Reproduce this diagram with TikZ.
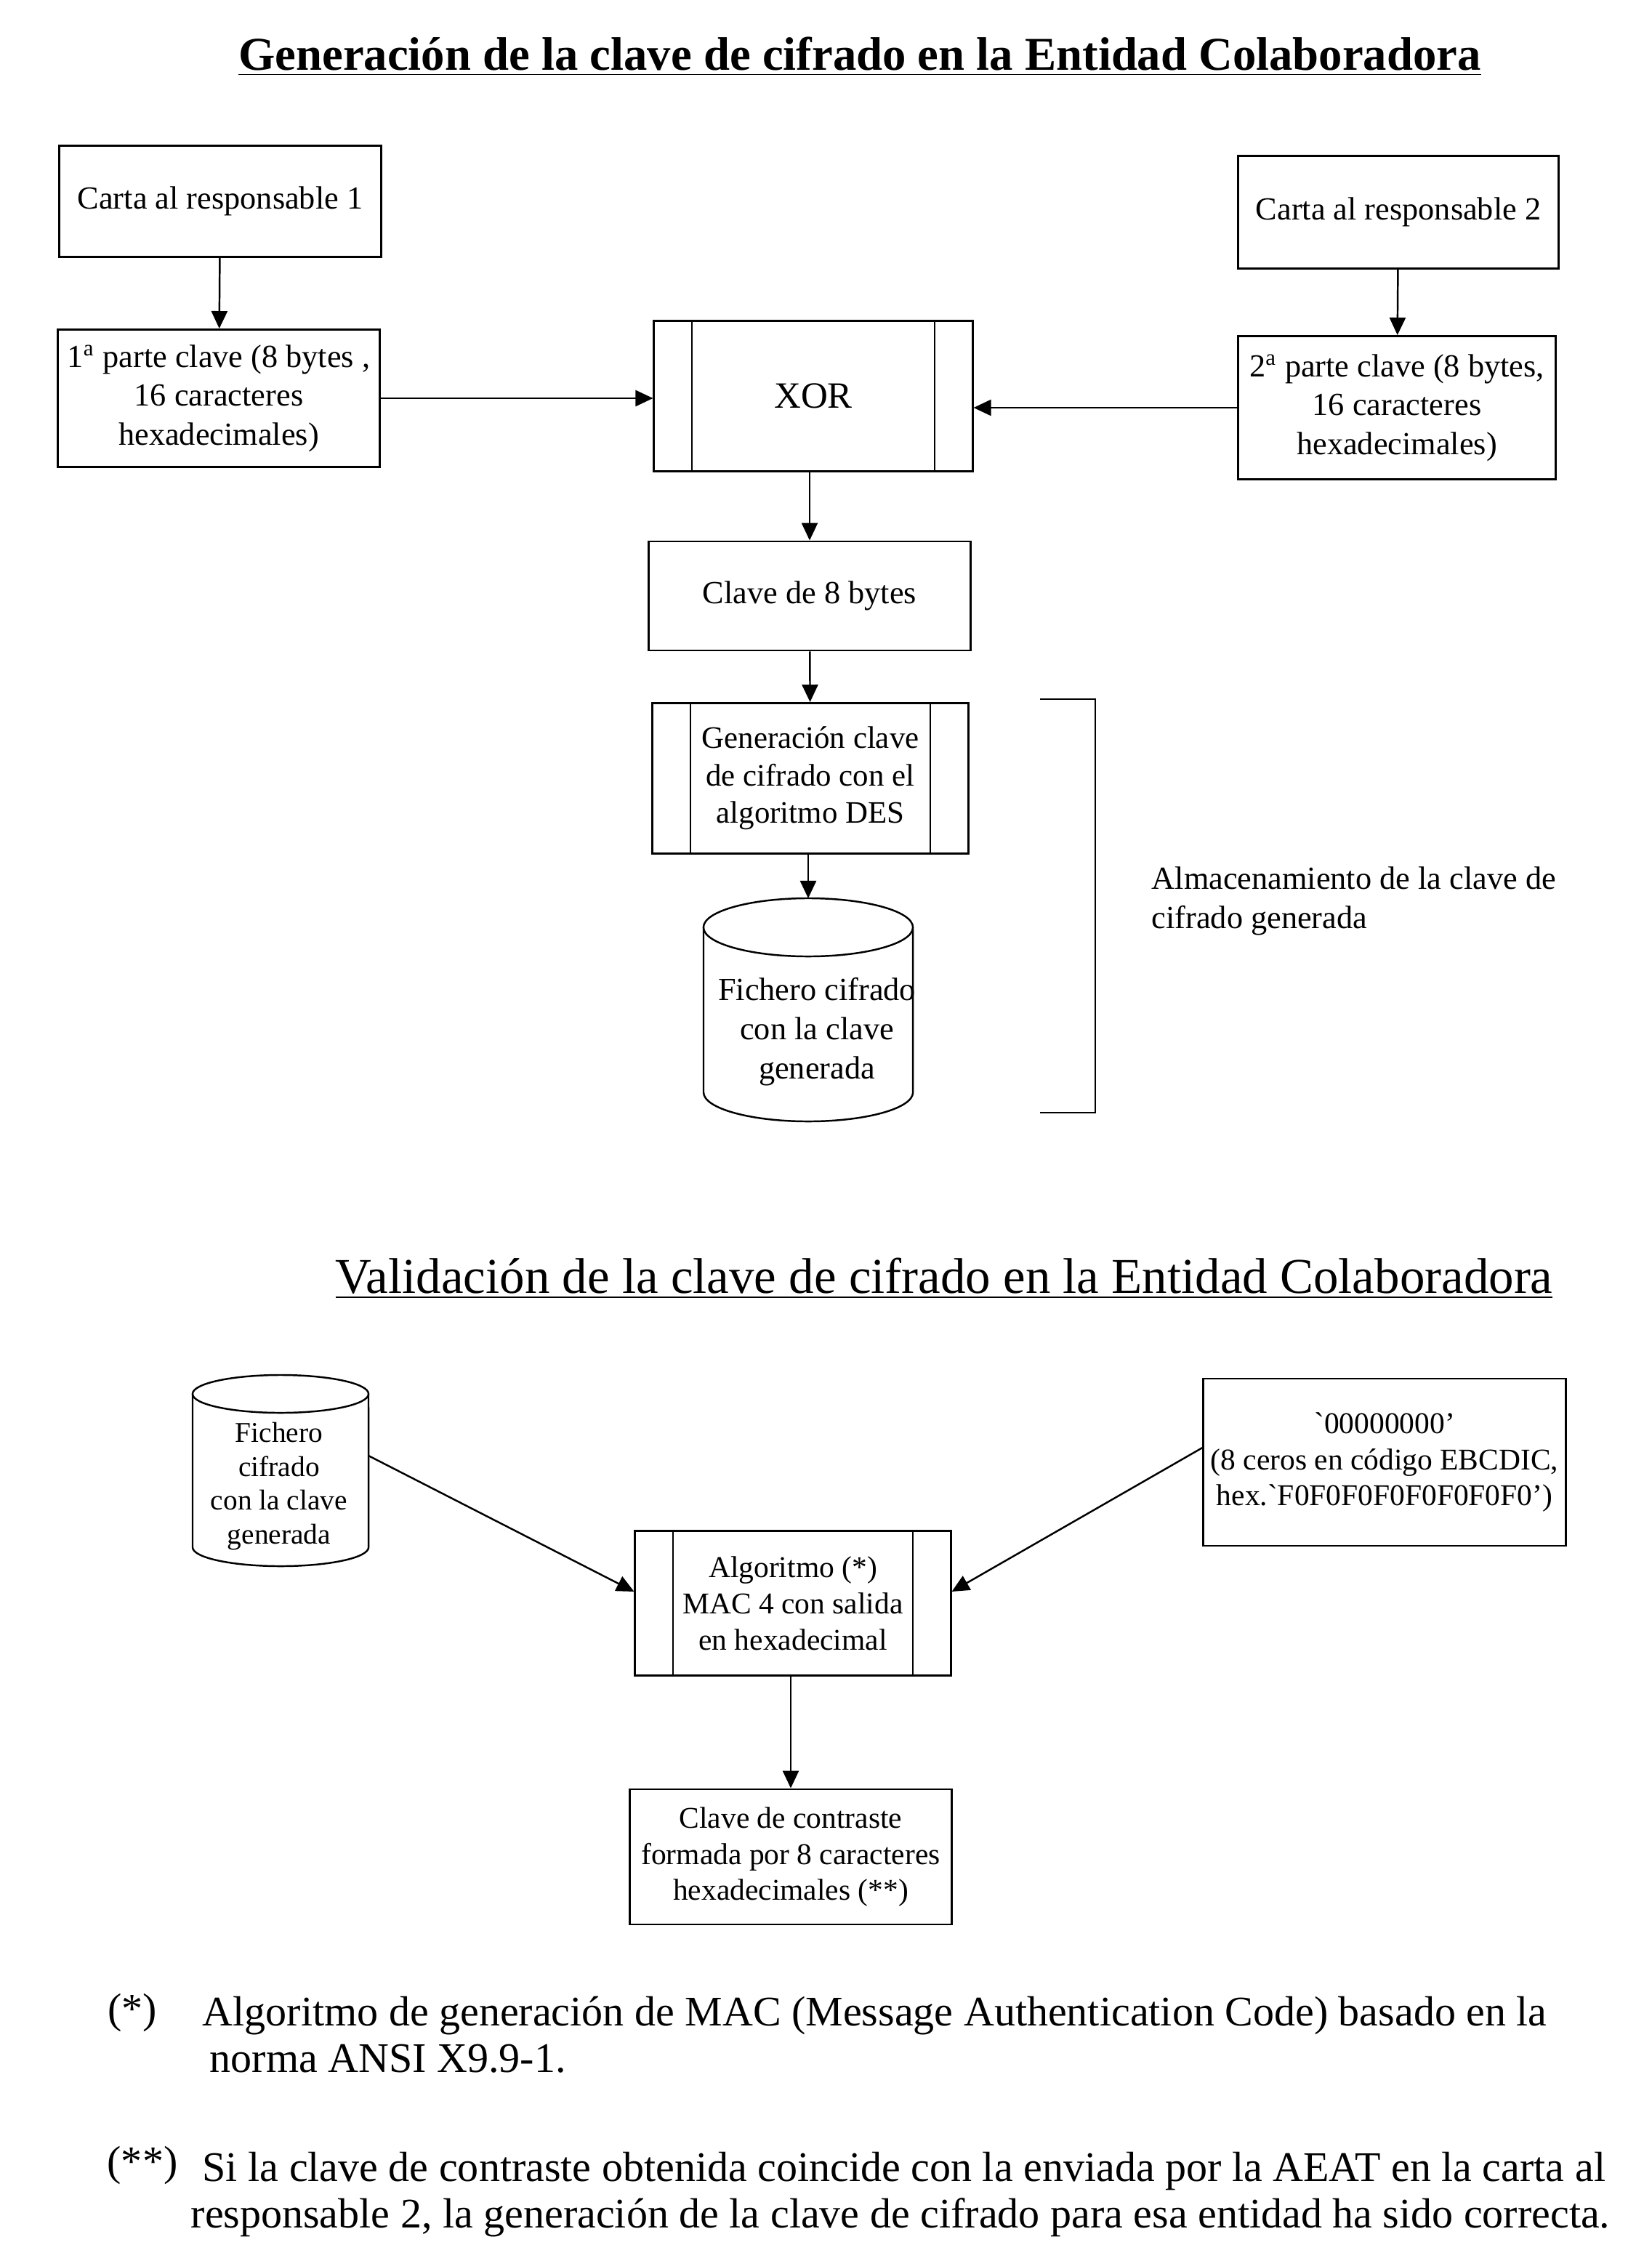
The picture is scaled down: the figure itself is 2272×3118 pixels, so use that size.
\documentclass[tikz,border=0pt]{standalone}
\usepackage{fontspec}
\setmainfont{Liberation Serif}
\usetikzlibrary{arrows.meta, calc}

\begin{document}
\begin{tikzpicture}[
    x=0.01cm, y=-0.01cm,
    keybox/.style   ={draw=black, line width=0.8pt, align=center, inner sep=2pt,
                      font=\fontsize{12.6}{15.2}\selectfont},
    procbox/.style  ={keybox, path picture={
        \draw[line width=0.6pt]
          ([xshift=5.2mm]path picture bounding box.north west) -- ([xshift=5.2mm]path picture bounding box.south west)
          ([xshift=-5.2mm]path picture bounding box.north east) -- ([xshift=-5.2mm]path picture bounding box.south east);}},
    lowbox/.style   ={keybox, font=\fontsize{11.8}{14.2}\selectfont},
    flowarrow/.style={-{Triangle[length=2.4mm, width=2.2mm]}, line width=0.7pt},
    drumline/.style ={line width=0.7pt},
    headtitle/.style={anchor=base, inner sep=0pt},
    notetext/.style ={font=\fontsize{16.5}{18.4}\selectfont, align=left, inner sep=0pt}
]

% ---------- page ----------
\fill[white] (0,0) rectangle (2272,3118);
\useasboundingbox (0,0) rectangle (2272,3118);

% ---------- generation part ----------
\node[headtitle, font=\fontsize{18.4}{22}\selectfont\bfseries] (titlegen) at (1183,97)
    {\underline{Generación de la clave de cifrado en la Entidad Colaboradora}};

\node[keybox, minimum width=4.43cm, minimum height=1.53cm] (carta1) at (303,277) {Carta al responsable 1};
\node[keybox, minimum width=4.41cm, minimum height=1.55cm] (carta2) at (1924,292) {Carta al responsable 2};
\node[keybox, minimum width=4.43cm, minimum height=1.89cm] (parte1) at (301,548)
    {1\textsuperscript{a} parte clave (8 bytes ,\\16 caracteres\\hexadecimales)};
\node[keybox, minimum width=4.37cm, minimum height=1.97cm] (parte2) at (1922,561)
    {2\textsuperscript{a} parte clave (8 bytes,\\16 caracteres\\hexadecimales)};
\node[procbox, minimum width=4.38cm, minimum height=2.07cm, font=\fontsize{14.5}{17}\selectfont] (xor) at (1119,545) {XOR};
\node[keybox, minimum width=4.43cm, minimum height=1.50cm] (clave8) at (1114,820) {Clave de 8 bytes};
\node[procbox, minimum width=4.34cm, minimum height=2.07cm, font=\fontsize{12.2}{14.6}\selectfont] (gendes) at (1115,1071)
    {Generación clave\\de cifrado con el\\algoritmo DES};

% stored file (drum)
\draw[drumline] (968,1276) -- (968,1503) arc[start angle=180, end angle=360, x radius=1.44cm, y radius=0.4cm] -- (1256,1276);
\draw[drumline] (1112,1276) ellipse [x radius=1.44cm, y radius=0.4cm];
\coordinate (fichero1top) at (1112,1236);
\node[font=\fontsize{12.6}{15.4}\selectfont, align=center, inner sep=0pt] (fichero1) at (1124,1420)
    {Fichero cifrado\\con la clave\\generada};

% storage bracket
\coordinate (brtop) at (1431,962);
\coordinate (brbot) at (1431,1531);
\draw[line width=0.8pt] (brtop) -- ++(76,0) -- ++(0,569) -- (brbot);
\node[anchor=west, align=left, inner sep=0pt, font=\fontsize{12.6}{15.2}\selectfont] (almacen) at (1584,1240)
    {Almacenamiento de la clave de\\cifrado generada};

\draw[flowarrow] (carta1) -- (parte1);
\draw[flowarrow] (carta2) -- (parte2);
\draw[flowarrow] (parte1.east) -- (parte1.east -| xor.west);
\draw[flowarrow] (parte2.west) -- (parte2.west -| xor.east);
\draw[flowarrow] (xor.south -| clave8.north) -- (clave8.north);
\draw[flowarrow] (clave8) -- (gendes);
\draw[flowarrow] (gendes.south -| fichero1top) -- (fichero1top);

% ---------- validation part ----------
\node[headtitle, font=\fontsize{19.6}{23}\selectfont] (titleval) at (1299,1779)
    {\underline{Validación de la clave de cifrado en la Entidad Colaboradora}};

\draw[drumline] (265,1918) -- (265,2129) arc[start angle=180, end angle=360, x radius=1.21cm, y radius=0.26cm] -- (507,1918);
\draw[drumline] (386,1918) ellipse [x radius=1.21cm, y radius=0.26cm];
\coordinate (fichero2out) at (507,2003);
\node[font=\fontsize{11.2}{13.2}\selectfont, align=center, inner sep=0pt] (fichero2) at (384,2045)
    {Fichero\\cifrado\\con la clave\\generada};

\node[lowbox, minimum width=4.98cm, minimum height=2.30cm, inner sep=0pt] (ceros) at (1905,2012)
    {\textasciigrave 00000000’\\(8 ceros en código EBCDIC,\\hex.\textasciigrave F0F0F0F0F0F0F0F0’)};
\node[procbox, lowbox, minimum width=4.34cm, minimum height=1.99cm] (mac) at (1091,2206)
    {Algoritmo (*)\\MAC 4 con salida\\en hexadecimal};
\node[lowbox, minimum width=4.42cm, minimum height=1.86cm] (contraste) at (1088,2555)
    {Clave de contraste\\formada por 8 caracteres\\hexadecimales (**)};

\draw[flowarrow] (fichero2out) -- ([yshift=1.6mm]mac.west);
\draw[flowarrow] ([yshift=2mm]ceros.west) -- ([yshift=1.6mm]mac.east);
\draw[flowarrow] (mac.south -| contraste.north) -- (contraste.north);

% ---------- notes ----------
\node[notetext] (markone) at (182,2770) {(*)};
\node[notetext, anchor=north west] (noteone) at (278,2746)
    {Algoritmo de generación de MAC (Message Authentication Code) basado en la\\
     \hspace*{1mm}norma ANSI X9.9-1.};
\node[notetext] (marktwo) at (196,2980) {(**)};
\node[notetext, anchor=north west] (notetwo) at (262,2960)
    {\hspace*{1.6mm}Si la clave de contraste obtenida coincide con la enviada por la AEAT en la carta al\\
     responsable 2, la generación de la clave de cifrado para esa entidad ha sido correcta.};

\end{tikzpicture}
\end{document}
